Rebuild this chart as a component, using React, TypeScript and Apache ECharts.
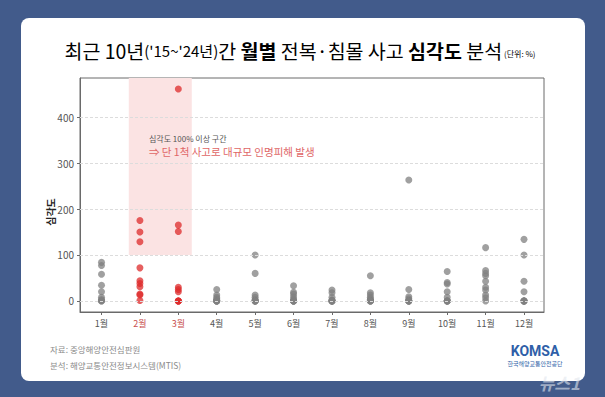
import React, { useEffect, useRef } from "react";
import * as echarts from "echarts";

const monthLabels = ["1월", "2월", "3월", "4월", "5월", "6월", "7월", "8월", "9월", "10월", "11월", "12월"];
const monthValues = [1, 2, 3, 4, 5, 6, 7, 8, 9, 10, 11, 12];
const highlightMonths = [2, 3];
const yTicks = [0, 100, 200, 300, 400];

const sev1 = [84, 77, 58, 34, 20, 8, 3, 1, 0, 0];
const sev2 = [175, 150, 129, 72, 44, 38, 31, 15, 13, 1];
const sev3 = [461, 165, 151, 30, 25, 20, 0, 0, 0, 0];
const sev4 = [25, 13, 8, 5, 2, 0, 0, 0, 0, 0];
const sev5 = [100, 60, 13, 8, 3, 0, 0, 0, 0, 0];
const sev6 = [33, 19, 15, 9, 4, 0, 0, 0, 0, 0];
const sev7 = [24, 18, 8, 2, 0, 0, 0, 0, 0, 0];
const sev8 = [55, 18, 13, 8, 4, 2, 0, 0, 0, 0];
const sev9 = [263, 25, 9, 5, 1, 0, 0, 0, 0, 0];
const sev10 = [64, 40, 37, 20, 8, 0, 0, 0, 0, 0];
const sev11 = [116, 66, 60, 55, 43, 30, 24, 13, 7, 0];
const sev12 = [134, 100, 43, 20, 0, 0, 0, 0, 0, 0];
const severityByMonth = [sev1, sev2, sev3, sev4, sev5, sev6, sev7, sev8, sev9, sev10, sev11, sev12];

const zoneStartX = 1.71;
const zoneEndX = 3.35;
const zoneMinY = 100;
const yMin = -24;
const yMax = 485;

const FONT = "'Noto Sans CJK KR', 'Noto Sans', sans-serif";

export default function App() {
  const ref = useRef<HTMLDivElement>(null);
  useEffect(() => {
    if (!ref.current) return;
    document.body.style.margin = "0";
    const chart = echarts.init(ref.current, null, { renderer: "svg" });

    const grayData: number[][] = [];
    const redData: number[][] = [];
    severityByMonth.forEach((vals, i) => {
      const m = monthValues[i];
      vals.forEach((v) => {
        if (highlightMonths.includes(m)) redData.push([m, v]);
        else grayData.push([m, v]);
      });
    });

    const option: any = {
      animation: false,
      backgroundColor: "#425b8b",
      textStyle: { fontFamily: FONT },
      graphic: [
        {
          type: "rect",
          z: -10,
          shape: { x: 21, y: 18, width: 564, height: 363, r: 8 },
          style: { fill: "#ffffff" },
        },
        {
          type: "text",
          x: 300,
          y: 50,
          z: 100,
          style: {
            text: "{n|최근 10년}{s|('15~'24년)}{n|간 }{b|월별 }{blue|전복·침몰 }{n|사고 }{b|심각도 }{n|분석}{u| (단위: %)}",
            align: "center",
            verticalAlign: "middle",
            rich: {
              n: { fontSize: 19.5, color: "#2b2b2b", fontFamily: FONT },
              s: { fontSize: 15, color: "#2b2b2b", fontFamily: FONT },
              b: { fontSize: 19.5, color: "#1e1e1e", fontWeight: "bold", fontFamily: FONT },
              blue: { fontSize: 19.5, color: "#3e5f95", fontFamily: FONT },
              u: { fontSize: 8, color: "#333", fontFamily: FONT, padding: [6, 0, 0, 0] },
            },
          },
        },
        {
          type: "text",
          x: 50,
          y: 212,
          z: 100,
          rotation: Math.PI / 2,
          style: {
            text: "심각도",
            fontSize: 10,
            fontWeight: "bold",
            fill: "#222",
            fontFamily: FONT,
            align: "center",
            verticalAlign: "middle",
          },
        },
        {
          type: "text",
          x: 149,
          y: 138,
          z: 100,
          style: {
            text: "심각도 100% 이상 구간",
            fontSize: 8,
            fill: "#555",
            fontFamily: FONT,
            verticalAlign: "middle",
          },
        },
        {
          type: "text",
          x: 149,
          y: 151,
          z: 100,
          style: {
            text: "⇒ 단 1척 사고로 대규모 인명피해 발생",
            fontSize: 10.5,
            fill: "#e06666",
            fontFamily: FONT,
            verticalAlign: "middle",
          },
        },
        {
          type: "text",
          x: 50,
          y: 349,
          z: 100,
          style: { text: "자료: 중앙해양안전심판원", fontSize: 8.5, fill: "#8a8a8a", fontFamily: FONT, verticalAlign: "middle" },
        },
        {
          type: "text",
          x: 50,
          y: 365,
          z: 100,
          style: { text: "분석: 해양교통안전정보시스템(MTIS)", fontSize: 8.5, fill: "#8a8a8a", fontFamily: FONT, verticalAlign: "middle" },
        },
        {
          type: "text",
          x: 580,
          y: 382,
          z: 50,
          style: {
            text: "뉴스1",
            fontSize: 17,
            fontWeight: "bold",
            fontStyle: "italic",
            fill: "rgba(225,230,238,0.6)",
            fontFamily: FONT,
            align: "right",
            verticalAlign: "middle",
          },
        },
        {
          type: "text",
          x: 535,
          y: 351,
          z: 100,
          style: {
            text: "KOMSA",
            fontSize: 14,
            fontWeight: "bold",
            fill: "#2f5fa8",
            fontFamily: "Roboto, sans-serif",
            align: "center",
            verticalAlign: "middle",
          },
        },
        {
          type: "text",
          x: 535,
          y: 363,
          z: 100,
          style: {
            text: "한국해양교통안전공단",
            fontSize: 6,
            fill: "#2f5fa8",
            fontFamily: FONT,
            align: "center",
            verticalAlign: "middle",
          },
        },
      ],
      grid: {
        left: 80,
        right: 61,
        top: 78,
        bottom: 85,
        show: true,
        borderColor: "#6a6a6a",
        borderWidth: 1,
        backgroundColor: "transparent",
      },
      xAxis: {
        type: "value",
        min: 0.44,
        max: 12.52,
        axisLine: { show: true, onZero: false, lineStyle: { color: "#6a6a6a" } },
        axisTick: { show: true, customValues: monthValues, length: 3, lineStyle: { color: "#6a6a6a" } },
        splitLine: { show: false },
        axisLabel: {
          customValues: monthValues,
          formatter: (v: number) => monthLabels[Math.round(v) - 1],
          color: (v: any) => (highlightMonths.includes(Math.round(Number(v))) ? "#c9504f" : "#555"),
          fontSize: 9,
          margin: 7,
          fontFamily: FONT,
        },
      },
      yAxis: {
        type: "value",
        min: yMin,
        max: yMax,
        axisLine: { show: true, onZero: false, lineStyle: { color: "#6a6a6a" } },
        axisTick: { show: true, customValues: yTicks, length: 3, lineStyle: { color: "#6a6a6a" } },
        splitLine: { show: false },
        axisLabel: { customValues: yTicks, color: "#555", fontSize: 10, margin: 6, fontFamily: FONT },
      },
      series: [
        {
          type: "scatter",
          name: "guides",
          data: [],
          z: 1,
          silent: true,
          markArea: {
            silent: true,
            itemStyle: { color: "#fbe3e3" },
            data: [[{ xAxis: zoneStartX, yAxis: zoneMinY }, { xAxis: zoneEndX, yAxis: yMax }]],
          },
          markLine: {
            silent: true,
            symbol: "none",
            label: { show: false },
            lineStyle: { color: "#dcdcdc", type: [3, 2], width: 1 },
            data: yTicks.map((t) => ({ yAxis: t })),
          },
        },
        {
          type: "scatter",
          name: "other",
          data: grayData,
          symbolSize: 7,
          z: 3,
          itemStyle: { color: "#808080", opacity: 0.75 },
        },
        {
          type: "scatter",
          name: "highlight",
          data: redData,
          symbolSize: 7,
          z: 3,
          itemStyle: { color: "#dd2b2b", opacity: 0.75 },
        },
      ],
    };
    chart.setOption(option);
    return () => chart.dispose();
  }, []);
  return <div ref={ref} style={{ position: "fixed", left: 0, top: 0, width: 605, height: 397 }} />;
}
